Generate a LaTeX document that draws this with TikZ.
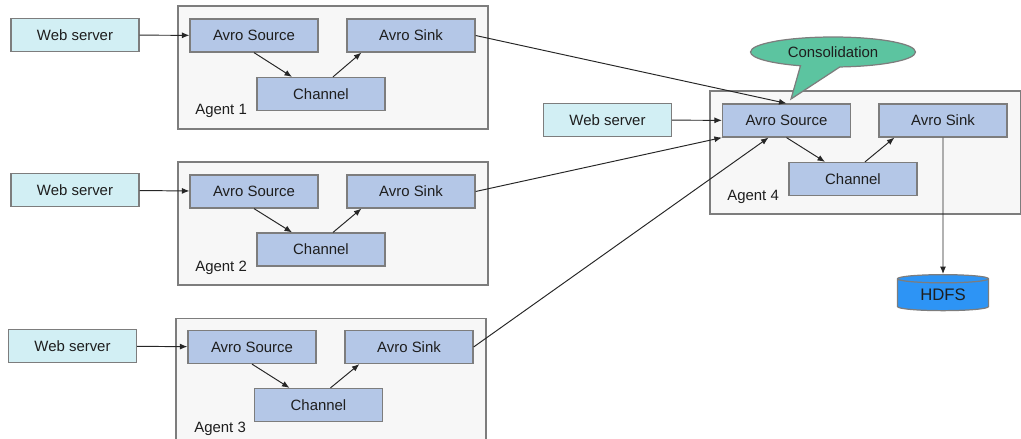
\documentclass[tikz,border=0pt]{standalone}
\usepackage{fontspec}
\setmainfont{Liberation Sans}
\usetikzlibrary{arrows.meta,shapes.geometric,shapes.callouts}

\definecolor{serverfill}{RGB}{210,239,244}
\definecolor{compfill}{RGB}{180,199,231}
\definecolor{agentfill}{RGB}{247,247,247}
\definecolor{edgegray}{RGB}{125,125,125}
\definecolor{notefill}{RGB}{92,196,160}
\definecolor{hdfsfill}{RGB}{45,148,245}
\definecolor{txt}{RGB}{30,30,30}

\begin{document}
\begin{tikzpicture}[x=0.02cm,y=-0.02cm,
  font=\fontsize{8.5}{10}\selectfont, text=txt,
  server/.style={draw=edgegray, line width=0.7pt, fill=serverfill, minimum width=2.56cm, minimum height=0.67cm, inner sep=0pt},
  comp/.style={draw=edgegray, line width=0.7pt, fill=compfill, minimum width=2.56cm, minimum height=0.66cm, inner sep=0pt},
  agent/.style={draw=edgegray, line width=0.7pt, fill=agentfill, minimum width=6.2cm, minimum height=2.46cm, inner sep=0pt},
  agentlabel/.style={anchor=west, inner sep=0pt},
  flow/.style={-{Latex[length=1.5mm,width=1.2mm]}, line width=0.55pt, draw=black!85}]
\useasboundingbox (0,0) rectangle (1021,439);
\clip (0,0) rectangle (1021,439);

% agents
\node[agent] (agent1) at (333,67.5) {};
\node[agent] (agent2) at (333,223.5) {};
\node[agent] (agent3) at (331,380) {};
\node[agent, minimum width=6.21cm] (agent4) at (865.25,152.5) {};
\node[agentlabel] (lab1) at (195,111) {Agent 1};
\node[agentlabel] (lab2) at (195,268) {Agent 2};
\node[agentlabel] (lab3) at (194,429) {Agent 3};
\node[agentlabel] (lab4) at (727,197) {Agent 4};

% web servers
\node[server] (web1) at (75,35) {Web server};
\node[server] (web2) at (75,190) {Web server};
\node[server] (web3) at (72.5,346) {Web server};
\node[server] (web4) at (607.5,120) {Web server};

% agent components
\node[comp] (src1) at (254,35.5) {Avro Source};
\node[comp] (sink1) at (411,35.5) {Avro Sink};
\node[comp] (chan1) at (321,94) {Channel};
\node[comp] (src2) at (254,191.5) {Avro Source};
\node[comp] (sink2) at (411,191.5) {Avro Sink};
\node[comp] (chan2) at (321,249.5) {Channel};
\node[comp] (src3) at (252,347) {Avro Source};
\node[comp] (sink3) at (409,347) {Avro Sink};
\node[comp] (chan3) at (318.5,405) {Channel};
\node[comp] (src4) at (786.5,120.5) {Avro Source};
\node[comp] (sink4) at (943,120.5) {Avro Sink};
\node[comp] (chan4) at (853,179) {Channel};

\node[cylinder, shape border rotate=90, aspect=0.18, draw=edgegray, line width=0.7pt,
  fill=hdfsfill, minimum width=1.82cm, minimum height=0.72cm, inner sep=0pt,
  font=\fontsize{9.5}{11}\selectfont] (hdfs) at (943,295) {\color{txt}HDFS};

\node[ellipse callout, draw=edgegray, line width=0.7pt, fill=notefill, minimum width=3.3cm,
  minimum height=0.6cm, inner sep=0pt, callout pointer arc=28,
  callout absolute pointer={(791,99)}] (note) at (833,52) {Consolidation};

% flows
\draw[flow] (web1) -- (src1);
\draw[flow] (web2) -- (src2);
\draw[flow] (web3) -- (src3);
\draw[flow] (web4) -- (src4);
\draw[flow] (src1.south) -- ([xshift=-0.58cm]chan1.north);
\draw[flow] ([xshift=0.24cm]chan1.north) -- ([xshift=0.3cm]sink1.south west);
\draw[flow] (src2.south) -- ([xshift=-0.58cm]chan2.north);
\draw[flow] ([xshift=0.24cm]chan2.north) -- ([xshift=0.3cm]sink2.south west);
\draw[flow] (src3.south) -- ([xshift=-0.58cm]chan3.north);
\draw[flow] ([xshift=0.24cm]chan3.north) -- ([xshift=0.3cm]sink3.south west);
\draw[flow] (src4.south) -- ([xshift=-0.56cm]chan4.north);
\draw[flow] ([xshift=0.24cm]chan4.north) -- ([xshift=0.32cm]sink4.south west);
\draw[flow] (sink1.east) -- (src4.north);
\draw[flow] (sink2.east) -- (src4.south west);
\draw[flow] (sink3.east) -- ([xshift=-0.36cm]src4.south);
\draw[flow] (sink4.south) -- (hdfs.north);
\end{tikzpicture}
\end{document}
